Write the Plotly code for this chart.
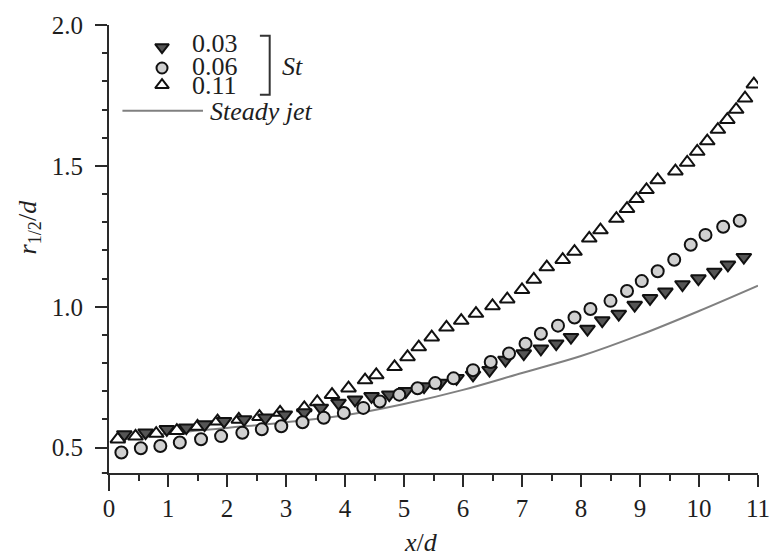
import plotly.graph_objects as go

# ---- data ----
st003_x = [0.26, 0.62, 0.98, 1.31, 1.62, 1.95, 2.29, 2.65, 2.98, 3.31, 3.59, 3.89, 4.17, 4.45, 4.75,
           5.03, 5.34, 5.61, 5.89, 6.17, 6.45, 6.72, 7.03, 7.32, 7.58, 7.83, 8.11, 8.36, 8.64, 8.91,
           9.17, 9.43, 9.72, 9.99, 10.26, 10.49, 10.76]
st003_y = [0.547, 0.553, 0.565, 0.571, 0.582, 0.594, 0.600, 0.606, 0.617, 0.625, 0.641, 0.658, 0.670, 0.682, 0.688,
           0.700, 0.717, 0.729, 0.746, 0.758, 0.775, 0.811, 0.834, 0.851, 0.869, 0.892, 0.921, 0.951, 0.974, 1.006,
           1.030, 1.053, 1.079, 1.100, 1.123, 1.149, 1.176]

st006_x = [0.21, 0.54, 0.87, 1.20, 1.56, 1.90, 2.26, 2.59, 2.92, 3.28, 3.64, 3.98, 4.31, 4.59, 4.92,
           5.23, 5.53, 5.84, 6.17, 6.47, 6.78, 7.06, 7.32, 7.61, 7.89, 8.16, 8.50, 8.78, 9.03, 9.30,
           9.58, 9.86, 10.11, 10.41, 10.69]
st006_y = [0.483, 0.498, 0.506, 0.518, 0.530, 0.541, 0.553, 0.565, 0.576, 0.590, 0.606, 0.623, 0.641, 0.664, 0.688,
           0.711, 0.729, 0.746, 0.775, 0.804, 0.834, 0.869, 0.904, 0.933, 0.962, 0.992, 1.021, 1.056, 1.091, 1.126,
           1.167, 1.220, 1.255, 1.284, 1.305]

st011_x = [0.15, 0.45, 0.80, 1.15, 1.50, 1.84, 2.20, 2.55, 2.90, 3.31, 3.53, 3.78, 4.06, 4.34, 4.53,
           4.84, 5.06, 5.25, 5.47, 5.72, 5.97, 6.22, 6.50, 6.75, 7.00, 7.20, 7.42, 7.69, 7.89, 8.14,
           8.33, 8.60, 8.78, 8.94, 9.11, 9.30, 9.60, 9.80, 9.97, 10.14, 10.32, 10.48, 10.63, 10.78, 10.93]
st011_y = [0.530, 0.540, 0.550, 0.560, 0.575, 0.594, 0.600, 0.610, 0.625, 0.641, 0.662, 0.688, 0.711, 0.740, 0.758,
           0.787, 0.822, 0.857, 0.892, 0.927, 0.951, 0.976, 1.003, 1.027, 1.060, 1.097, 1.141, 1.167, 1.196, 1.243,
           1.272, 1.313, 1.348, 1.383, 1.415, 1.450, 1.481, 1.512, 1.551, 1.588, 1.629, 1.664, 1.700, 1.740, 1.790]

steady_x = [0.1, 1, 2, 3, 4, 5, 6, 7, 8, 9, 10, 11]
steady_y = [0.525, 0.55, 0.57, 0.59, 0.615, 0.655, 0.705, 0.765, 0.825, 0.90, 0.985, 1.075]

series_labels = ["0.03", "0.06", "0.11"]
x_tick_vals = list(range(0, 12))
y_tick_vals = [0.5, 1.0, 1.5, 2.0]
y_tick_text = ["0.5", "1.0", "1.5", "2.0"]

# ---- styles ----
FONT = "'Liberation Serif', 'Times New Roman', Times, serif"
TXT = "#1e1e1e"
AX = "#2a2a2a"
styles = {
    "0.03": dict(symbol="triangle-down", color="#555555", size=13),
    "0.06": dict(symbol="circle", color="#d0d0d0", size=12),
    "0.11": dict(symbol="triangle-up", color="#ffffff", size=13),
}

fig = go.Figure()

fig.add_trace(go.Scatter(x=steady_x, y=steady_y, mode="lines", line=dict(color="#808080", width=2, shape="spline"),
                         showlegend=False, hoverinfo="skip"))

for lab, xs, ys in [("0.11", st011_x, st011_y), ("0.03", st003_x, st003_y), ("0.06", st006_x, st006_y)]:
    s = styles[lab]
    fig.add_trace(go.Scatter(x=xs, y=ys, mode="markers", name=lab, showlegend=False,
                             marker=dict(symbol=s["symbol"], size=s["size"], color=s["color"],
                                         line=dict(color="#111111", width=2))))

# ---- custom legend (overlay paper-like axes) ----
leg_mx = 0.0817
leg_my = [0.9505, 0.904, 0.866]
leg_ty = [0.958, 0.907, 0.866]
for lab, my, ty in zip(series_labels, leg_my, leg_ty):
    s = styles[lab]
    fig.add_trace(go.Scatter(x=[leg_mx], y=[my], xaxis="x2", yaxis="y2", mode="markers", showlegend=False,
                             hoverinfo="skip",
                             marker=dict(symbol=s["symbol"], size=s["size"] - 1, color=s["color"],
                                         line=dict(color="#111111", width=2))))
    fig.add_annotation(x=0.125, y=ty, xref="paper", yref="paper", text=lab, showarrow=False,
                       xanchor="left", yanchor="middle", font=dict(family=FONT, size=26, color=TXT))

# bracket
fig.add_shape(type="path", xref="paper", yref="paper",
              path="M 0.2325 0.976 L 0.2476 0.976 L 0.2476 0.8441 L 0.2325 0.8441",
              line=dict(color="#333333", width=2))
fig.add_annotation(x=0.264, y=0.907, xref="paper", yref="paper", text="<i>St</i>", showarrow=False,
                   xanchor="left", yanchor="middle", font=dict(family=FONT, size=26, color=TXT))
# steady jet legend
fig.add_shape(type="line", xref="paper", yref="paper", x0=0.0207, x1=0.1448, y0=0.8088, y1=0.8088,
              line=dict(color="#808080", width=2))
fig.add_annotation(x=0.153, y=0.808, xref="paper", yref="paper", text="<i>Steady jet</i>", showarrow=False,
                   xanchor="left", yanchor="middle", font=dict(family=FONT, size=26, color=TXT))

# axis titles
fig.add_annotation(x=0.481, y=-0.155, xref="paper", yref="paper", text="<i>x</i>/<i>d</i>", showarrow=False,
                   xanchor="center", yanchor="middle", font=dict(family=FONT, size=26, color=TXT))
fig.add_annotation(x=-0.123, y=0.5485, xref="paper", yref="paper",
                   text="<i>r</i><sub>1/2</sub>/<i>d</i>", showarrow=False, textangle=-90,
                   xanchor="center", yanchor="middle", font=dict(family=FONT, size=26, color=TXT))

# axis extensions (axes cross at the corner)
fig.add_shape(type="line", xref="paper", yref="paper", x0=0, x1=0, y0=-0.04, y1=0,
              line=dict(color=AX, width=2))
fig.add_shape(type="line", xref="paper", yref="paper", x0=-0.011, x1=0, y0=0, y1=0,
              line=dict(color=AX, width=2))

fig.update_layout(
    width=782, height=556,
    margin=dict(l=109, r=12, t=19, b=83),
    paper_bgcolor="white", plot_bgcolor="white",
    font=dict(family=FONT, size=25, color=TXT),
    xaxis=dict(range=[0, 11], tickvals=x_tick_vals, ticks="outside", ticklen=12, tickwidth=2,
               tickcolor=AX, showline=True, linecolor=AX, linewidth=2, showgrid=False, zeroline=False,
               tickfont=dict(family=FONT, size=25, color=TXT), ticklabelstandoff=0,
               ticklabeloverflow="allow",
               minor=dict(dtick=0.5, tick0=0, ticks="outside", ticklen=6, tickwidth=2, tickcolor=AX,
                          showgrid=False)),
    yaxis=dict(range=[0.41, 2.0], tickvals=y_tick_vals, ticktext=y_tick_text, ticks="outside", ticklen=12,
               tickwidth=2, tickcolor=AX, showline=True, linecolor=AX, linewidth=2, showgrid=False,
               zeroline=False, tickfont=dict(family=FONT, size=25, color=TXT), ticklabelstandoff=7,
               minor=dict(dtick=0.1, tick0=0, ticks="outside", ticklen=5, tickwidth=2, tickcolor=AX,
                          showgrid=False)),
    xaxis2=dict(range=[0, 1], overlaying="x", visible=False, fixedrange=True),
    yaxis2=dict(range=[0, 1], overlaying="y", visible=False, fixedrange=True),
    showlegend=False,
)

fig.write_html("out.html")
